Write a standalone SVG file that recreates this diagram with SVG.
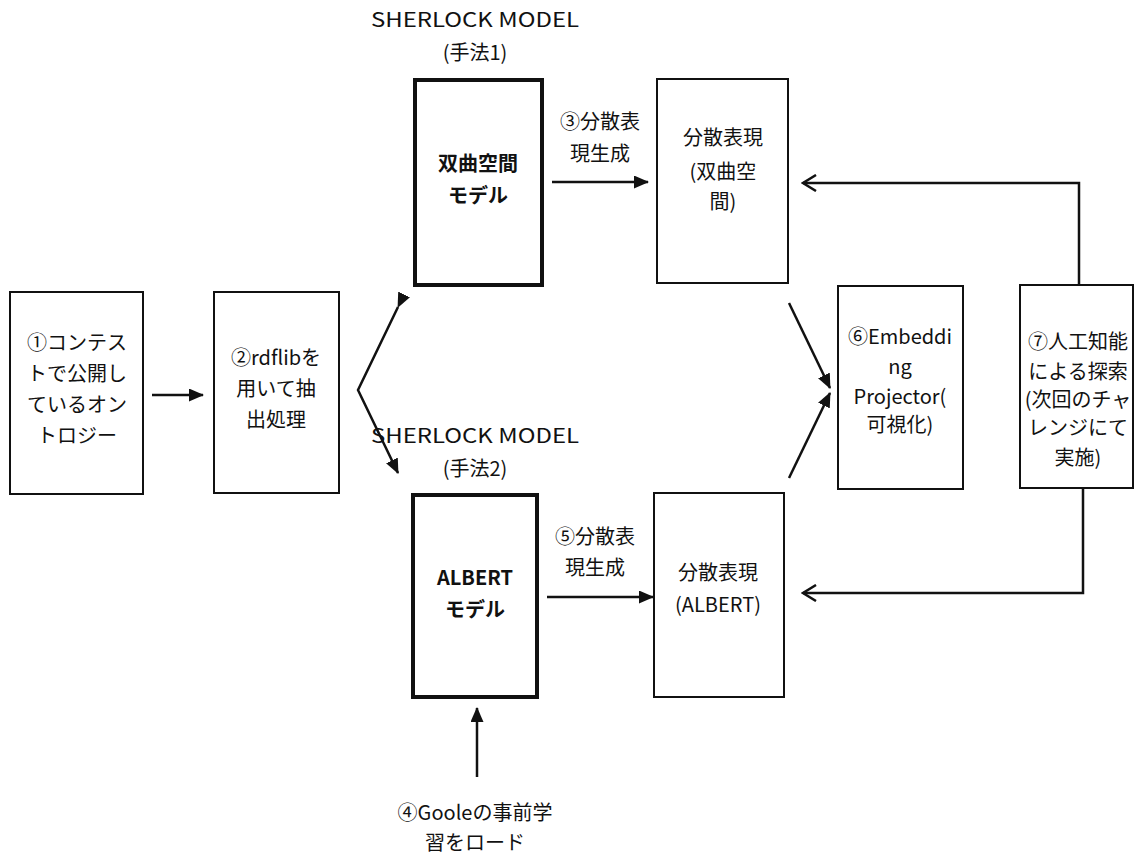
<svg xmlns="http://www.w3.org/2000/svg" width="1136" height="855" viewBox="0 0 1136 855">
<style>
text{font-family:"Noto Sans CJK JP","Noto Sans",sans-serif;font-size:20px;fill:#111;text-anchor:middle}
.b{font-weight:bold}
.box{fill:#fff;stroke:#111;stroke-width:2}
.tbox{fill:#fff;stroke:#111;stroke-width:4}
.c{fill:none;stroke:#111;stroke-width:2.5}
</style>
<defs>
<marker id="ah" markerWidth="15" markerHeight="13" refX="14" refY="6.5" orient="auto" markerUnits="userSpaceOnUse"><path d="M0,0 L15,6.5 L0,13 Z" fill="#111"/></marker>
<marker id="oh" markerWidth="16" markerHeight="18" refX="14" refY="9" orient="auto" markerUnits="userSpaceOnUse"><path d="M1,1 L14,9 L1,17" fill="none" stroke="#111" stroke-width="2.5"/></marker>
</defs>
<rect width="1136" height="855" fill="#fff"/>
<g id="labels">
<text x="475" y="27" textLength="208" lengthAdjust="spacingAndGlyphs">SHERLOCK MODEL</text>
<text x="475" y="60">(手法1)</text>
<text x="475" y="443" textLength="208" lengthAdjust="spacingAndGlyphs">SHERLOCK MODEL</text>
<text x="475" y="476">(手法2)</text>
<text x="600" y="129">③分散表</text>
<text x="600" y="161">現生成</text>
<text x="595" y="544">⑤分散表</text>
<text x="595" y="575">現生成</text>
<text x="475" y="820">④Gooleの事前学</text>
<text x="475" y="850">習をロード</text>
</g>
<g id="n1"><rect class="box" x="10" y="292" width="133" height="202"/>
<text x="77" y="350">①コンテス</text><text x="77" y="381">トで公開し</text><text x="77" y="412">ているオン</text><text x="77" y="443">トロジー</text></g>
<g id="n2"><rect class="box" x="214" y="292" width="125" height="201"/>
<text x="276" y="365">②rdflibを</text><text x="276" y="396">用いて抽</text><text x="276" y="427">出処理</text></g>
<g id="n3"><rect class="tbox" x="415" y="80" width="127" height="205"/>
<text class="b" x="478" y="171">双曲空間</text><text class="b" x="478" y="203">モデル</text></g>
<g id="n4"><rect class="box" x="657" y="79" width="131" height="204"/>
<text x="723" y="145">分散表現</text><text x="723" y="179">(双曲空</text><text x="723" y="209">間)</text></g>
<g id="n5"><rect class="tbox" x="413" y="495" width="124" height="202"/>
<text class="b" x="475" y="585">ALBERT</text><text class="b" x="475" y="617">モデル</text></g>
<g id="n6"><rect class="box" x="654" y="493" width="130" height="204"/>
<text x="718" y="580">分散表現</text><text x="718" y="612">(ALBERT)</text></g>
<g id="n7"><rect class="box" x="838" y="286" width="125" height="203"/>
<text x="900" y="344">⑥Embeddi</text><text x="900" y="374">ng</text><text x="900" y="404">Projector(</text><text x="900" y="432">可視化)</text></g>
<g id="n8"><rect class="box" x="1020" y="285" width="113" height="203"/>
<text x="1078" y="349">⑦人工知能</text><text x="1078" y="379">による探索</text><text x="1078" y="407">(次回のチャ</text><text x="1078" y="435">レンジにて</text><text x="1078" y="465">実施)</text></g>
<g id="connectors">
<line class="c" x1="152" y1="395" x2="203" y2="395" marker-end="url(#ah)"/>
<polyline class="c" points="398,307 358,390 398,473" marker-start="url(#ah)" marker-end="url(#ah)"/>
<line class="c" x1="552" y1="182" x2="648" y2="182" marker-end="url(#ah)"/>
<line class="c" x1="547" y1="597" x2="653" y2="597" marker-end="url(#ah)"/>
<line class="c" x1="477" y1="777" x2="477" y2="708" marker-end="url(#ah)"/>
<line class="c" x1="789" y1="303" x2="830" y2="388" marker-end="url(#ah)"/>
<line class="c" x1="789" y1="478" x2="830" y2="393" marker-end="url(#ah)"/>
<polyline class="c" points="1079,285 1079,183 803,183" marker-end="url(#oh)"/>
<polyline class="c" points="1083,488 1083,593 803,593" marker-end="url(#oh)"/>
</g>
</svg>
